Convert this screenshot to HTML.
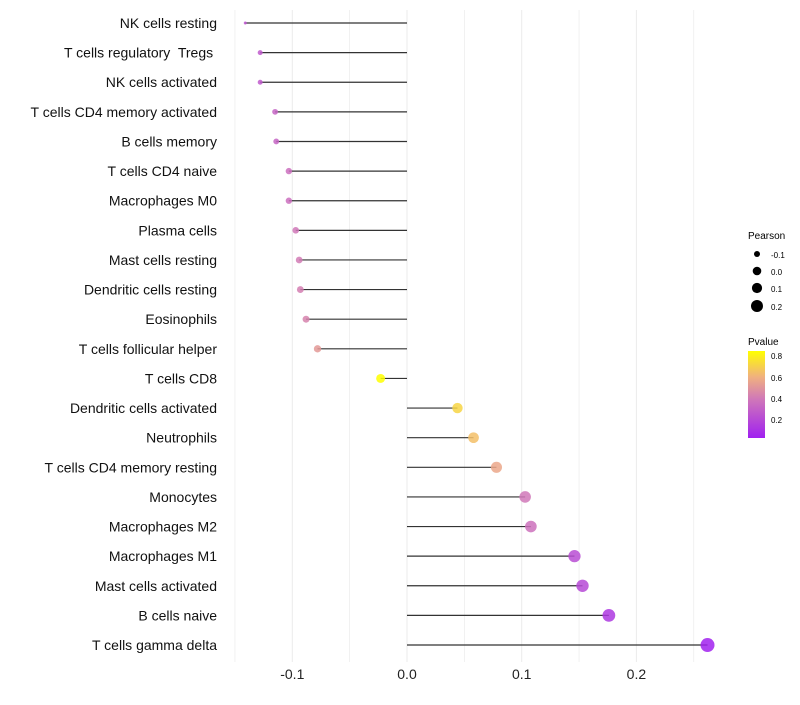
<!DOCTYPE html>
<html><head><meta charset="utf-8"><style>
body{margin:0;background:#fff;font-family:"Liberation Sans",sans-serif;}
text{white-space:pre;}
</style></head><body>
<svg id="chart" width="800" height="700" xmlns="http://www.w3.org/2000/svg" font-family="Liberation Sans, sans-serif">
<g id="grid"></g><g id="marks"></g><g id="ylabels"></g><g id="xticks"></g>
<g>
<text x="748" y="239" font-size="10">Pearson</text>
<circle cx="757" cy="254" r="3" fill="#000"/><text x="771" y="258" font-size="8">-0.1</text>
<circle cx="757" cy="271" r="4.3" fill="#000"/><text x="771" y="275" font-size="8">0.0</text>
<circle cx="757" cy="288" r="5.1" fill="#000"/><text x="771" y="292" font-size="8">0.1</text>
<circle cx="757" cy="306" r="6" fill="#000"/><text x="771" y="310" font-size="8">0.2</text>
</g>
<g>
<defs><linearGradient id="pg" x1="0" y1="1" x2="0" y2="0">
<stop offset="0" stop-color="#A020F0"/><stop offset="0.45" stop-color="#D078B8"/><stop offset="0.7" stop-color="#F0B080"/><stop offset="1" stop-color="#FFFF00"/></linearGradient></defs>
<text x="748" y="345" font-size="10">Pvalue</text>
<rect x="748" y="351" width="17" height="87" fill="url(#pg)"/>
<text x="771" y="359" font-size="8">0.8</text><text x="771" y="381" font-size="8">0.6</text>
<text x="771" y="402" font-size="8">0.4</text><text x="771" y="423" font-size="8">0.2</text>
</g>
</svg>
<script>
const cells=["NK cells resting","T cells regulatory  Tregs ","NK cells activated","T cells CD4 memory activated","B cells memory","T cells CD4 naive","Macrophages M0","Plasma cells","Mast cells resting","Dendritic cells resting","Eosinophils","T cells follicular helper","T cells CD8","Dendritic cells activated","Neutrophils","T cells CD4 memory resting","Monocytes","Macrophages M2","Macrophages M1","Mast cells activated","B cells naive","T cells gamma delta"];
const pearson=[-0.141,-0.128,-0.128,-0.115,-0.114,-0.103,-0.103,-0.097,-0.094,-0.093,-0.088,-0.078,-0.023,0.044,0.058,0.078,0.103,0.108,0.146,0.153,0.176,0.262];
const pvalue=[0.25,0.27,0.27,0.32,0.32,0.36,0.36,0.4,0.41,0.42,0.44,0.52,0.85,0.72,0.65,0.57,0.4,0.37,0.22,0.2,0.13,0.04];
const xTicks=[-0.1,0,0.1,0.2];
const xTickLabels=["-0.1","0.0","0.1","0.2"];
const NS="http://www.w3.org/2000/svg";
const x=v=>407+v*1147;
const y=i=>23+i*29.62;
const r=v=>1.5+5.5*Math.sqrt(Math.max(0,(v+0.141)/0.403));
function col(p){const t=Math.max(0,Math.min(1,(p-0.03)/0.82));
 const st=[[0,[160,32,240]],[0.45,[208,120,184]],[0.7,[240,176,128]],[1,[255,255,0]]];
 for(let k=1;k<st.length;k++){if(t<=st[k][0]){const a=st[k-1],b=st[k],f=(t-a[0])/(b[0]-a[0]);
 return `rgb(${a[1].map((c,j)=>Math.round(c+(b[1][j]-c)*f)).join(",")})`;}}return "rgb(255,255,0)";}
function mk(tag,at,parent){const e=document.createElementNS(NS,tag);for(const k in at)e.setAttribute(k,at[k]);document.getElementById(parent).appendChild(e);return e;}
for(let g=-0.15;g<=0.26;g+=0.05){const l=mk("line",{x1:x(g),x2:x(g),y1:10,y2:662,stroke:"#ebebeb","stroke-width":Math.abs(Math.round(g*20))%2===0?1:0.7},"grid");

}
xTicks.forEach((t,i)=>{const e=mk("text",{x:x(t),y:679,"font-size":14,"text-anchor":"middle",fill:"#222"},"xticks");e.textContent=xTickLabels[i];

});
cells.forEach((c,i)=>{
 const t=mk("text",{x:217,y:y(i)+5,"font-size":14,"text-anchor":"end",fill:"#111"},"ylabels");t.textContent=c;
 
 
 const l=mk("line",{x1:x(0),x2:x(pearson[i]),y1:y(i),y2:y(i),stroke:"#333","stroke-width":1.2},"marks");
 
 
 const p=mk("circle",{cx:x(pearson[i]),cy:y(i),r:r(pearson[i]),fill:col(pvalue[i]),"fill-opacity":0.85},"marks");
 
 
});
</script>
</body></html>
